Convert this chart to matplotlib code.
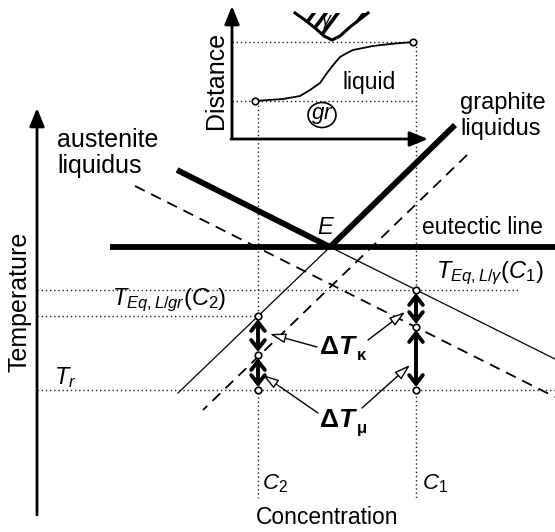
import matplotlib
matplotlib.use("Agg")
import matplotlib.pyplot as plt
from matplotlib.patches import Polygon, Ellipse

plt.rcParams['font.family'] = ['Liberation Sans', 'DejaVu Sans']
plt.rcParams['mathtext.fontset'] = 'custom'
plt.rcParams['mathtext.rm'] = 'Liberation Sans'
plt.rcParams['mathtext.it'] = 'Liberation Sans:italic'
plt.rcParams['mathtext.bf'] = 'Liberation Sans:bold'

# -----------------------------------------
# schematic data (pixel frame: x right, y down)
# -----------------------------------------
conc = [258, 416]                 # C2, C1
conc_labels = ['$C_2$', '$C_1$']
t_levels = [290, 316, 390]        # T_Eq,L/gamma(C1), T_Eq,L/gr(C2), T_r

eutectic_x = [110, 555]
eutectic_y = [247, 247]

aus_thick_x = [177, 330]
aus_thick_y = [170, 247]
aus_thin_x = [330, 555]
aus_thin_y = [247, 359]
aus_dash_x = [135, 555]
aus_dash_y = [186, 397]

gr_thick_x = [330, 455]
gr_thick_y = [247, 125]
gr_thin_x = [330, 178]
gr_thin_y = [247, 393]
gr_dash_x = [467, 203]
gr_dash_y = [155, 410]

# undercooling points at C2 and C1 (top, middle, bottom)
pts_c2 = [316, 355, 390]
pts_c1 = [290, 327, 390]

# inset profile (distance vs concentration)
prof_x = [255, 283, 300, 310, 320, 327, 334, 340, 347, 353, 363, 373, 390, 413]
prof_y = [101, 99, 96, 90, 83, 73, 64, 57, 53, 50, 48, 46, 44, 42]
gamma_x = [295, 305, 315, 324, 332, 340, 350, 359, 368]
gamma_y = [13, 20, 28, 36, 40, 36, 27, 20, 13]
hatch_starts = [290, 302, 314, 340, 352, 364]

fig = plt.figure(figsize=(5.55, 5.32), dpi=100)
ax = fig.add_axes([0, 0, 1, 1])
ax.set_xlim(0, 555)
ax.set_ylim(532, 0)
ax.axis('off')

dot = dict(color='#222222', linestyle=(0, (1, 2)), linewidth=1.0)

# dotted guide lines
ax.plot([37, 520], [t_levels[0]] * 2, **dot)
ax.plot([37, conc[0]], [t_levels[1]] * 2, **dot)
ax.plot([37, 555], [t_levels[2]] * 2, **dot)
ax.plot([conc[0]] * 2, [prof_y[0], 498], **dot)
ax.plot([conc[1]] * 2, [prof_y[-1], 498], **dot)
ax.plot([232, 413], [prof_y[-1]] * 2, **dot)
ax.plot([232, 416], [prof_y[0]] * 2, **dot)

# main axes with arrows
axis_arrow = dict(arrowstyle='-|>,head_length=1.1,head_width=0.45',
                  lw=2, color='black', shrinkA=0, shrinkB=0)
ax.annotate('', xy=(37, 108), xytext=(37, 515), arrowprops=axis_arrow)
ax.annotate('', xy=(556, 498), xytext=(17, 498), arrowprops=axis_arrow)

# inset axes
ax.annotate('', xy=(232, 6), xytext=(232, 139), arrowprops=axis_arrow)
ax.annotate('', xy=(428, 139), xytext=(231, 139), arrowprops=axis_arrow)

# liquidus lines
ax.plot(eutectic_x, eutectic_y, color='black', lw=4.2, solid_capstyle='butt')
ax.plot(aus_thick_x, aus_thick_y, color='black', lw=4.2, solid_capstyle='butt')
ax.plot(gr_thick_x, gr_thick_y, color='black', lw=4.2, solid_capstyle='butt')
ax.plot(aus_thin_x, aus_thin_y, color='black', lw=0.9)
ax.plot(gr_thin_x, gr_thin_y, color='black', lw=0.9)
ax.plot(aus_dash_x, aus_dash_y, color='black', lw=1.3, linestyle=(0, (6, 4)))
ax.plot(gr_dash_x, gr_dash_y, color='black', lw=1.3, linestyle=(0, (6, 4)))

# thick double arrows
for x, pts in zip(conc, [pts_c2, pts_c1]):
    for a, b in [(pts[0], pts[1]), (pts[1], pts[2])]:
        ax.annotate('', xy=(x, b - 3), xytext=(x, a + 3),
                    arrowprops=dict(arrowstyle='<->,head_length=0.45,head_width=0.35',
                                    lw=2.8, color='black', shrinkA=0, shrinkB=0,
                                    mutation_scale=14))
    ax.scatter([x] * 3, pts, s=22, facecolor='white', edgecolor='black',
               linewidth=1.2, zorder=5)

# thin callout arrows
call = dict(arrowstyle='-|>,head_length=0.8,head_width=0.25', lw=1,
            fc='white', ec='black', shrinkA=0, shrinkB=0, mutation_scale=12)
ax.annotate('', xy=(270, 334), xytext=(317, 347), arrowprops=call)
ax.annotate('', xy=(405, 312), xytext=(368, 340), arrowprops=call)
ax.annotate('', xy=(263, 375), xytext=(318, 413), arrowprops=call)
ax.annotate('', xy=(410, 365), xytext=(362, 408), arrowprops=call)

# inset curve and gamma region
ax.plot(prof_x, prof_y, color='black', lw=1.3)
ax.scatter([prof_x[0], prof_x[-1]], [prof_y[0], prof_y[-1]], s=22,
           facecolor='white', edgecolor='black', linewidth=1.2, zorder=5)
gamma_patch = Polygon(list(zip(gamma_x, gamma_y)), closed=True,
                      facecolor='white', edgecolor='none')
ax.add_patch(gamma_patch)
for hs in hatch_starts:
    ln, = ax.plot([hs, hs + 30], [45, 5], color='black', lw=2.6)
    ln.set_clip_path(gamma_patch)
ax.plot(gamma_x, gamma_y, color='black', lw=2.2)
ax.text(327, 22, r'$\gamma$', fontsize=13, ha='center', va='center', zorder=6)
ax.add_patch(Ellipse((322, 115), 28, 25, facecolor='none', edgecolor='black', lw=1.2))
ax.text(322, 115, r'$gr$', fontsize=16, ha='center', va='center')

# texts
fs = 16.5
ax.text(57, 140, 'austenite', fontsize=18, va='center')
ax.text(57, 166, 'liquidus', fontsize=18, va='center')
ax.text(460, 103, 'graphite', fontsize=17, va='center')
ax.text(460, 129, 'liquidus', fontsize=17, va='center')
ax.text(422, 228, 'eutectic line', fontsize=fs, va='center')
ax.text(326, 228, '$E$', fontsize=17, ha='center', va='center')
ax.text(343, 82, 'liquid', fontsize=fs, va='center')
ax.text(216, 80, 'Distance', fontsize=18, rotation=90, ha='center', va='center')
ax.text(20, 302, 'Temperature', fontsize=18, rotation=90, ha='center', va='center')
ax.text(327, 518, 'Concentration', fontsize=fs, ha='center', va='center')
ax.text(436, 273, r'$T_{Eq,L/\gamma}(C_1)$', fontsize=17, va='center')
ax.text(112, 300, r'$T_{Eq,L/gr}(C_2)$', fontsize=17, va='center')
ax.text(54, 378, r'$T_r$', fontsize=17, va='center')
ax.text(conc[0] + 4, 484, conc_labels[0], fontsize=16, va='center')
ax.text(conc[1] + 6, 484, conc_labels[1], fontsize=16, va='center')

for y0, sub in [(347, 'κ'), (420, 'μ')]:
    ax.text(320, y0, 'Δ', fontsize=19, fontweight='bold', va='center')
    ax.text(338, y0, 'T', fontsize=19, fontweight='bold', style='italic', va='center')
    ax.text(357, y0 + 8, sub, fontsize=12, fontweight='bold', va='center')

fig.savefig('out.png', dpi=100)
